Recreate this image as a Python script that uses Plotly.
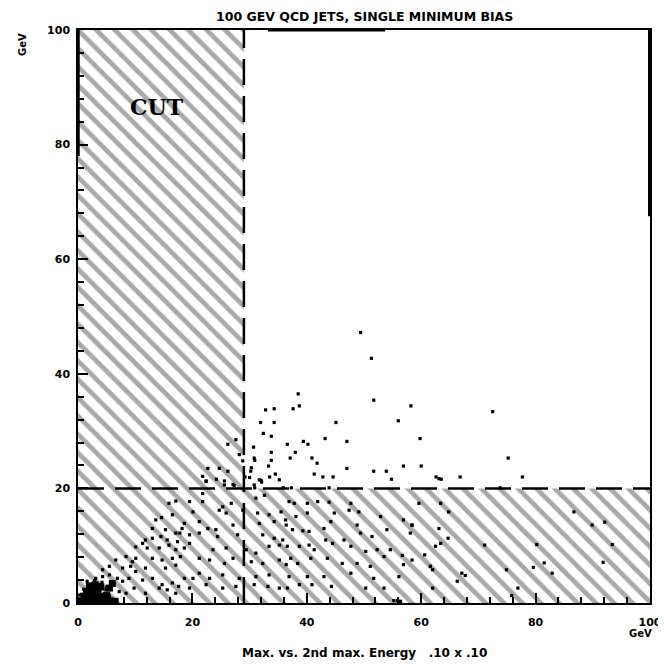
import plotly.graph_objects as go

# ---- data ----
cut_x = 29
cut_y = 20
axis_max = 100
tick_vals = [0, 20, 40, 60, 80, 100]
tick_text = ["0", "20", "40", "60", "80", "100"]

# points above the y-cut
x_hi = [49.4, 51.3, 51.7, 38.5, 38.7, 37.6, 32.8, 34.3, 31.9, 34.3, 32.4, 33.8, 30.7, 45.1,
        58.2, 56.0, 72.5, 59.8, 36.6, 39.4, 40.2, 38.0, 37.1, 40.9, 41.8, 43.2, 47.0, 47.0,
        33.8, 30.9, 33.8, 33.3, 30.2, 33.5, 34.5, 32.1, 41.3, 42.8, 44.6, 51.7, 53.9, 54.8,
        56.9, 60.0, 62.6, 63.5, 66.8, 75.2, 77.7, 35.9, 37.3, 30.9, 43.9, 29.2,
        27.6, 26.2, 28.2, 28.8, 30.8, 30.3, 22.7, 24.7, 26.2, 21.8, 22.4, 24.2, 25.6, 27.1,
        30.0, 32.0, 22.4, 25.6, 27.3, 30.8, 31.7, 35.2, 63.1, 73.8]
y_hi = [47.2, 42.7, 35.4, 36.5, 34.4, 33.9, 33.7, 33.9, 31.5, 31.5, 29.6, 29.1, 27.2, 31.5,
        34.4, 31.8, 33.4, 28.7, 27.7, 28.2, 27.7, 26.3, 25.3, 25.3, 24.4, 28.7, 28.2, 23.5,
        26.3, 24.9, 24.9, 23.9, 23.0, 22.0, 22.5, 21.1, 22.5, 22.0, 22.0, 23.0, 23.0, 21.6,
        23.9, 23.9, 22.0, 21.6, 22.0, 25.3, 22.0, 20.1, 20.1, 20.1, 20.1, 22.0,
        28.5, 27.7, 25.9, 24.8, 25.3, 23.6, 23.5, 23.5, 23.0, 22.1, 21.3, 21.6, 21.3, 20.7,
        21.9, 21.4, 21.2, 20.6, 20.5, 20.6, 21.5, 21.5, 21.7, 20.1]

# points below the y-cut
x_lo = [15.9, 17.1, 13.6, 14.6, 16.5, 13.0, 15.3, 17.1, 18.2, 11.8, 13.0, 14.5, 15.6, 17.4,
        10.1, 11.3, 12.1, 14.2, 15.9, 17.1, 6.6, 8.4, 9.5, 10.1, 13.0, 14.7, 16.5, 17.9,
        4.3, 5.5, 7.8, 9.2, 10.1, 11.8, 15.3, 17.1, 3.1, 4.3, 5.5, 6.9, 7.8, 8.9, 11.3, 13.0,
        14.7, 16.5, 17.6, 2.0, 2.8, 3.7, 2.3, 3.4, 4.9, 5.5, 0.8, 2.0, 3.1, 4.6, 6.3, 7.2,
        8.4, 9.8, 11.8, 14.2, 15.6, 17.1, 0.2, 0.5, 1.4, 1.0, 1.8, 2.6, 3.5, 4.2, 5.0, 0.4,
        1.2, 2.2, 3.0, 3.9, 4.7, 5.8, 1.6, 2.9, 4.4,
        21.8, 19.5, 21.8, 25.3, 26.8, 31.1, 32.6, 20.1, 24.7, 25.9, 28.8, 31.4, 33.4, 35.5,
        18.6, 21.2, 22.7, 24.1, 27.1, 31.7, 34.3, 36.4, 17.8, 19.5, 21.2, 24.4, 27.9, 32.3,
        34.3, 35.8, 19.5, 18.6, 23.6, 25.9, 29.4, 31.1, 33.4, 35.2, 21.2, 23.0, 25.6, 27.1,
        30.3, 32.3, 35.2, 36.4, 18.6, 20.1, 21.2, 23.0, 25.3, 28.2, 31.1, 33.4, 19.5, 22.4,
        25.3, 27.6, 30.8, 33.2, 35.2,
        36.9, 37.8, 40.1, 41.9, 43.9, 47.7, 49.1, 47.4, 36.3, 38.1, 40.1, 44.2, 43.0, 44.8,
        48.8, 52.9, 56.9, 58.4, 37.5, 39.3, 40.4, 43.3, 46.5, 49.4, 51.4, 54.0, 58.1, 36.6,
        38.7, 40.4, 41.3, 44.5, 47.7, 50.3, 52.3, 53.5, 54.6, 56.7, 37.2, 40.7, 43.6, 38.4,
        46.2, 48.8, 51.1, 56.9, 36.9, 40.1, 43.0, 47.7, 51.7, 56.1, 36.6, 38.7, 40.9, 44.3,
        50.3, 53.5, 55.2, 55.8, 56.4,
        59.6, 63.4, 64.8, 58.4, 63.1, 64.7, 63.4, 62.5, 71.1, 58.4, 60.6, 61.6, 62.0, 67.1,
        67.7, 66.3, 62.0, 74.9, 76.9, 75.8, 80.2, 79.6, 81.5, 82.9, 86.7, 89.9, 92.1, 93.4,
        91.8]
y_lo = [17.4, 17.8, 14.5, 14.9, 15.4, 13.0, 12.8, 12.2, 13.0, 11.0, 11.3, 11.6, 11.0, 10.7,
        9.8, 10.4, 9.6, 9.6, 10.1, 9.3, 7.5, 8.1, 7.2, 7.8, 7.8, 7.5, 7.8, 8.1,
        5.8, 6.4, 6.1, 6.4, 5.5, 6.1, 6.1, 6.6, 4.3, 4.6, 4.9, 4.3, 3.8, 4.3, 4.0, 4.3,
        3.2, 3.5, 2.9, 3.2, 2.6, 3.2, 1.7, 1.4, 2.3, 1.2, 0.6, 0.3, 0.2, 0.3, 0.0, 2.0,
        1.7, 2.6, 1.7, 2.6, 2.3, 1.7, 1.4, 0.0, 0.9, 2.4, 1.8, 0.9, 2.0, 3.6, 2.8, 0.3,
        0.2, 1.2, 0.4, 0.8, 0.1, 0.5, 3.8, 3.9, 1.3,
        19.1, 17.7, 17.7, 16.8, 17.4, 18.3, 18.8, 15.9, 16.2, 15.7, 16.2, 15.7, 15.4, 15.9,
        13.9, 14.2, 13.0, 12.8, 13.6, 13.9, 14.2, 13.6, 12.2, 11.9, 12.2, 11.6, 11.9, 11.9,
        11.3, 11.0, 10.4, 9.6, 9.3, 9.6, 9.3, 8.7, 9.9, 10.1, 7.8, 7.5, 6.9, 7.8,
        7.2, 6.9, 7.5, 6.7, 4.3, 4.3, 5.2, 4.3, 4.9, 4.3, 4.6, 4.9, 2.6, 3.2,
        2.6, 2.9, 3.2, 2.9, 2.6,
        17.7, 17.4, 17.4, 17.7, 17.6, 17.4, 15.9, 16.2, 14.5, 15.1, 15.7, 14.2, 13.0, 15.7,
        13.6, 15.1, 14.5, 13.6, 12.8, 12.6, 12.5, 11.0, 11.0, 12.2, 11.6, 12.8, 12.2, 9.9,
        9.9, 10.1, 9.3, 10.4, 9.9, 9.0, 9.3, 8.1, 9.3, 8.3, 7.8, 7.8, 7.8, 6.9,
        6.9, 6.9, 6.4, 6.7, 4.6, 4.6, 4.6, 5.2, 4.3, 4.6, 2.6, 3.2, 3.2, 2.9,
        2.6, 2.6, 0.4, 0.4, 0.3,
        17.4, 17.4, 15.9, 13.6, 13.0, 11.3, 10.4, 9.9, 10.1, 7.5, 8.4, 6.4, 5.8, 5.2,
        4.8, 3.8, 2.6, 5.8, 2.6, 1.3, 10.2, 6.2, 7.0, 5.2, 15.9, 13.6, 14.1, 10.2,
        7.1]

# dense blob of events near the origin
x_core = [0.5, 1.5, 2.5, 3.5, 4.5, 5.5, 1.0, 2.0, 3.0, 4.0, 5.0, 1.5, 2.5, 3.5, 2.0, 3.0,
          6.5, 4.0, 5.5, 6.0]
y_core = [0.4, 0.4, 0.4, 0.4, 0.4, 0.4, 1.2, 1.2, 1.2, 1.2, 1.3, 2.0, 2.2, 2.4, 3.0, 3.2,
          0.3, 2.8, 2.6, 3.4]

fig = go.Figure()

# hatched cut region (L-shape: x < cut_x or y < cut_y)
fig.add_trace(go.Scatter(
    x=[0, 0, cut_x, cut_x, axis_max, axis_max, 0],
    y=[0, axis_max, axis_max, cut_y, cut_y, 0, 0],
    mode="lines", fill="toself", line=dict(width=0),
    fillcolor="white",
    fillpattern=dict(shape="\\", size=13, solidity=0.36, fgcolor="#a9a9a9",
                     bgcolor="white", fgopacity=1),
    hoverinfo="skip", showlegend=False))

# scatter points
fig.add_trace(go.Scatter(x=x_hi + x_lo, y=y_hi + y_lo, mode="markers",
                         marker=dict(symbol="square", size=3.2, color="black",
                                     line=dict(width=0)),
                         showlegend=False))
fig.add_trace(go.Scatter(x=x_core, y=y_core, mode="markers",
                         marker=dict(symbol="square", size=7, color="black",
                                     line=dict(width=0)),
                         showlegend=False))

# dashed cut lines
fig.add_trace(go.Scatter(x=[cut_x, cut_x], y=[0, axis_max], mode="lines",
                         line=dict(color="black", width=2.5, dash="26px,11px"),
                         showlegend=False, hoverinfo="skip"))
fig.add_trace(go.Scatter(x=[0, axis_max], y=[cut_y, cut_y], mode="lines",
                         line=dict(color="black", width=2.5, dash="26px,11px"),
                         showlegend=False, hoverinfo="skip"))

# thick border segments
fig.add_shape(type="line", x0=0, x1=0, y0=78, y1=100, xref="x", yref="y",
              line=dict(color="black", width=3.5))
fig.add_shape(type="line", x0=100, x1=100, y0=67.5, y1=100, xref="x", yref="y",
              line=dict(color="black", width=4))
fig.add_shape(type="line", x0=33.2, x1=53.7, y0=100, y1=100, xref="x", yref="y",
              line=dict(color="black", width=3))

tickfont = dict(family="DejaVu Sans", size=11, color="black", weight="bold")
axis_common = dict(range=[0, axis_max], tickvals=tick_vals, ticktext=tick_text,
                   ticks="inside", ticklen=10, tickwidth=1.5, tickcolor="black",
                   minor=dict(ticks="inside", dtick=4, ticklen=6, tickwidth=1.5,
                              tickcolor="black"),
                   showline=True, linecolor="black", linewidth=1.5, mirror=True,
                   showgrid=False, zeroline=False, tickfont=tickfont, automargin=False)

fig.update_xaxes(**axis_common, ticklabelstandoff=8)
fig.update_yaxes(**axis_common, ticklabelstandoff=4)

fig.add_annotation(text="CUT", x=13.8, y=86.5, xref="x", yref="y", showarrow=False,
                   font=dict(family="DejaVu Serif", size=22, color="black", weight="bold"))
fig.add_annotation(text="100 GEV QCD JETS, SINGLE MINIMUM BIAS", x=0.5, y=1,
                   xref="paper", yref="paper", yanchor="middle", yshift=14, showarrow=False,
                   font=dict(family="DejaVu Sans", size=12.5, color="black", weight="bold"))
fig.add_annotation(text="Max. vs. 2nd max. Energy   .10 x .10", x=0.5, y=0,
                   xref="paper", yref="paper", yanchor="middle", yshift=-50, showarrow=False,
                   font=dict(family="DejaVu Sans", size=12, color="black", weight="bold"))
fig.add_annotation(text="GeV", x=1, y=0, xref="paper", yref="paper", xanchor="center",
                   yanchor="middle", xshift=-10, yshift=-30, showarrow=False,
                   font=dict(family="DejaVu Sans", size=10, color="black", weight="bold"))
fig.add_annotation(text="GeV", x=0, y=1, xref="paper", yref="paper", xanchor="center",
                   yanchor="middle", xshift=-56, yshift=-15, textangle=-90, showarrow=False,
                   font=dict(family="DejaVu Sans", size=10, color="black", weight="bold"))

# the page body adds an 8px offset, so the figure is sized 658x660 and shifted margins
fig.update_layout(width=658, height=660, margin=dict(l=70, r=16, t=22, b=65),
                  plot_bgcolor="white", paper_bgcolor="white")

fig.write_html("out.html")
